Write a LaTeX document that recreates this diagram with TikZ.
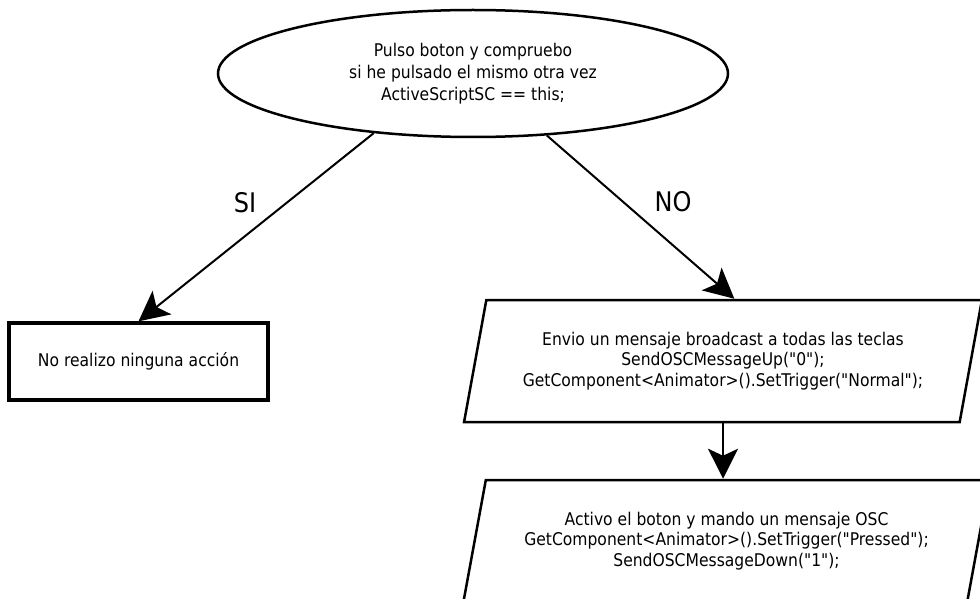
\documentclass[tikz,border=0pt]{standalone}
\usepackage{fontspec}
\setmainfont{DejaVu Sans}[FakeStretch=0.89, Ligatures=TeXOff]
\usetikzlibrary{shapes.geometric,arrows.meta,calc}
\begin{document}
\begin{tikzpicture}[x=1pt,y=-1pt,
  txt/.style={font=\fontsize{17.5}{22}\selectfont, align=center},
  decision/.style={ellipse, draw, line width=2.5pt, minimum width=510pt,
    minimum height=127pt, inner sep=0pt, txt},
  actionbox/.style={rectangle, draw, line width=3.3pt, minimum width=259pt,
    minimum height=77pt, inner sep=0pt, txt},
  iobox/.style={trapezium, trapezium left angle=72, trapezium right angle=108,
    trapezium stretches=true, draw, line width=2.5pt, minimum height=122pt,
    inner sep=0pt, align=center, font=\fontsize{17.5}{20.5}\selectfont},
  flow/.style={draw, line width=2pt,
    -{Stealth[length=30pt,width=30pt,inset=7pt,fill=black]}},
  branch/.style={font=\fontsize{27}{30}\selectfont, inner sep=0pt}
]
\useasboundingbox (0,0) rectangle (980,599);

% decision
\node[decision] (q) at (473,73.5)
  {Pulso boton y compruebo\\si he pulsado el mismo otra vez\\ActiveScriptSC == this;};

% left branch: nothing happens
\node[actionbox] (r) at (138.5,361.5) {No realizo ninguna acción};

% right branch: two steps
\node[iobox, minimum width=520pt] (p1) at (723,361)
  {Envio un mensaje broadcast a todas las teclas\\SendOSCMessageUp("0");\\GetComponent<Animator>().SetTrigger("Normal");};
\node[iobox, minimum width=527pt] (p2) at (726.5,541)
  {Activo el boton y mando un mensaje OSC\\GetComponent<Animator>().SetTrigger("Pressed");\\SendOSCMessageDown("1");};

% connectors
\draw[flow] (q.211) -- (r.north);
\draw[flow] (q.320.6) -- ($(p1.top left corner)!0.5!(p1.top right corner)$);
\draw[flow] (p1.south) -- (p1.south |- p2.north);

% branch labels
\node[branch] (si) at (245,203) {SI};
\node[branch] (no) at (673,202) {NO};
\end{tikzpicture}
\end{document}
